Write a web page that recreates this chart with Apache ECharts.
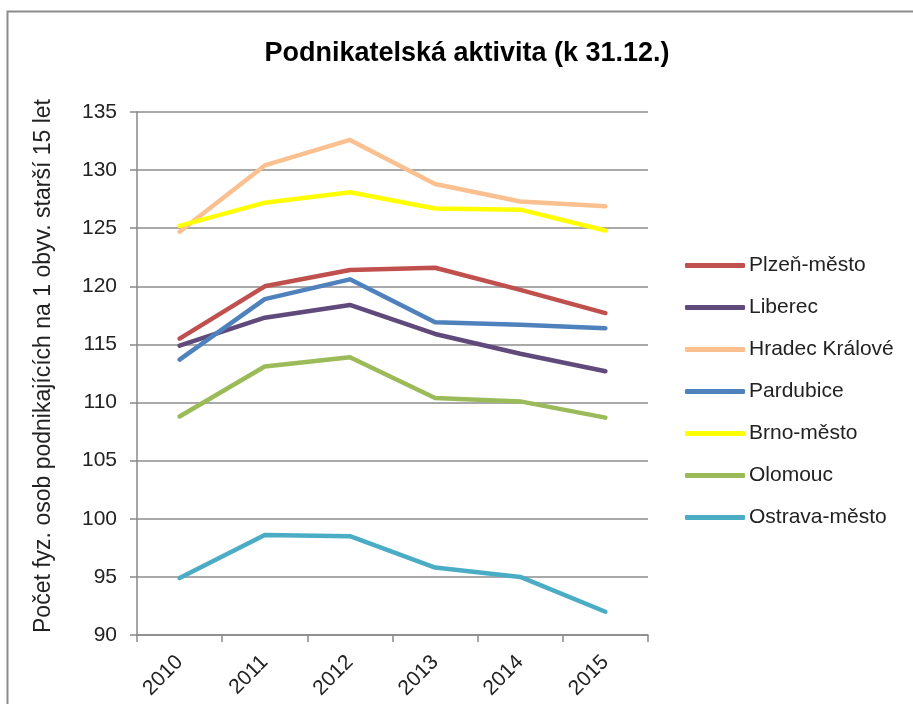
<!DOCTYPE html>
<html>
<head>
<meta charset="utf-8">
<script src="https://cdn.jsdelivr.net/npm/echarts@6/dist/echarts.min.js"></script>
<style>
  html, body { margin: 0; padding: 0; background: #fff; }
  #chart { width: 913px; height: 704px; }
</style>
</head>
<body>
<div id="chart"></div>
<script>
// Podnikatelská aktivita — line chart.
var years = ['2010', '2011', '2012', '2013', '2014', '2015'];

var plzen     = [115.5, 120.0, 121.4, 121.6, 119.7, 117.7];
var liberec   = [114.9, 117.3, 118.4, 115.9, 114.2, 112.7];
var hradec    = [124.7, 130.4, 132.6, 128.8, 127.3, 126.9];
var pardubice = [113.7, 118.9, 120.6, 116.9, 116.7, 116.4];
var brno      = [125.2, 127.2, 128.1, 126.7, 126.6, 124.8];
var olomouc   = [108.8, 113.1, 113.9, 110.4, 110.1, 108.7];
var ostrava   = [94.9, 98.6, 98.5, 95.8, 95.0, 92.0];

var seriesNames = ['Plzeň-město', 'Liberec', 'Hradec Králové', 'Pardubice', 'Brno-město', 'Olomouc', 'Ostrava-město'];
var seriesData = [plzen, liberec, hradec, pardubice, brno, olomouc, ostrava];
var seriesColors = ['#C0504D', '#604A7B', '#FAC090', '#4F81BD', '#FFFF00', '#9BBB59', '#4BACC6'];

var FONT = '"Liberation Sans", Arial, sans-serif';

var series = [];
for (var i = 0; i < seriesNames.length; i++) {
    series.push({
        name: seriesNames[i],
        type: 'line',
        data: seriesData[i],
        symbol: 'none',
        color: seriesColors[i],
        lineStyle: { width: 4.5, color: seriesColors[i], cap: 'round', join: 'round' }
    });
}

var chart = echarts.init(document.getElementById('chart'), null, { renderer: 'canvas' });
chart.setOption({
    animation: false,
    backgroundColor: '#fff',
    graphic: [{
        type: 'rect',
        shape: { x: 7.5, y: 11.5, width: 920, height: 720 },
        style: { fill: 'none', stroke: '#8c8c8c', lineWidth: 2 },
        silent: true
    }],
    title: {
        text: 'Podnikatelská aktivita (k 31.12.)',
        left: 462, top: 35, textAlign: 'center',
        textStyle: { fontFamily: FONT, fontSize: 27, fontWeight: 'bold', color: '#000' }
    },
    legend: {
        orient: 'vertical',
        left: 680, top: 250,
        icon: 'roundRect',
        itemWidth: 60, itemHeight: 5,
        itemGap: 21,
        textStyle: { fontFamily: FONT, fontSize: 21, color: '#222', padding: [0, 0, 0, -1] },
        data: seriesNames
    },
    grid: { left: 137, right: 265, top: 112, bottom: 69, containLabel: false },
    xAxis: {
        type: 'category',
        data: years,
        boundaryGap: true,
        axisLine: { lineStyle: { color: '#888', width: 1.5 } },
        axisTick: { show: true, length: 7, lineStyle: { color: '#888', width: 1.5 } },
        axisLabel: { rotate: 45, fontFamily: FONT, fontSize: 21, color: '#222', margin: 24 }
    },
    yAxis: {
        type: 'value',
        min: 90, max: 135, interval: 5,
        name: 'Počet fyz. osob podnikajících na 1 obyv. starší 15 let',
        nameLocation: 'middle',
        nameGap: 82,
        nameTextStyle: { fontFamily: FONT, fontSize: 23, color: '#222', padding: [0, 0, 0, 15] },
        axisLine: { show: true, lineStyle: { color: '#888', width: 1.5 } },
        axisTick: { show: true, length: 7, lineStyle: { color: '#888', width: 1.5 } },
        splitLine: { lineStyle: { color: '#8c8c8c', width: 1.5 } },
        axisLabel: { fontFamily: FONT, fontSize: 21, color: '#222', margin: 20 }
    },
    series: series
});
</script>
</body>
</html>
